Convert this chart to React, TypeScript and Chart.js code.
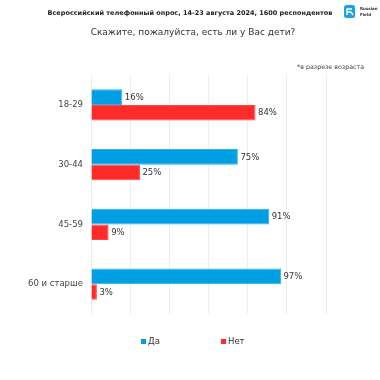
import React, { useEffect, useRef } from "react";
import { Chart, registerables } from "chart.js";

Chart.register(...registerables);

const categories = ["18-29", "30-44", "45-59", "60 и старше"];
const seriesNames = ["Да", "Нет"];
const yesValues = [16, 75, 91, 97];
const noValues = [84, 25, 9, 3];
const seriesColors = ["#009FE3", "#FF2B2B"];
const seriesBorders = ["#2AB0EC", "#FF4646"];
const titleText = "Всероссийский телефонный опрос, 14-23 августа 2024, 1600 респондентов";
const subtitleText = "Скажите, пожалуйста, есть ли у Вас дети?";
const noteText = "*в разрезе возраста";
const FONT = "'DejaVu Sans', sans-serif";

const headerPlugin = {
  id: "header",
  afterDraw(chart: any) {
    const ctx = chart.ctx;
    ctx.save();
    ctx.textBaseline = "middle";
    ctx.fillStyle = "#222";
    ctx.textAlign = "center";
    ctx.font = `bold 6.5px ${FONT}`;
    ctx.fillText(titleText, 190, 13);
    ctx.font = `9px ${FONT}`;
    ctx.fillStyle = "#333";
    ctx.fillText(subtitleText, 193, 33);
    ctx.font = `6.3px ${FONT}`;
    ctx.textAlign = "right";
    ctx.fillStyle = "#444";
    ctx.fillText(noteText, 364, 67);
    // logo
    ctx.fillStyle = "#1BA1E6";
    ctx.beginPath();
    (ctx as any).roundRect(344, 5, 11, 13, 2.5);
    ctx.fill();
    ctx.strokeStyle = "#fff";
    ctx.lineWidth = 1.4;
    ctx.beginPath();
    ctx.moveTo(352, 9);
    ctx.lineTo(347, 9);
    ctx.lineTo(347, 15);
    ctx.moveTo(347, 12);
    ctx.lineTo(351, 12);
    ctx.lineTo(353, 15);
    ctx.stroke();
    ctx.fillStyle = "#333";
    ctx.textAlign = "left";
    ctx.font = `bold 4px ${FONT}`;
    ctx.fillText("Russian", 360, 9);
    ctx.fillText("Field", 360, 15);
    ctx.restore();
  },
};

const valueLabelPlugin = {
  id: "valueLabels",
  afterDatasetsDraw(chart: any) {
    const ctx = chart.ctx;
    ctx.save();
    ctx.font = `8.5px ${FONT}`;
    ctx.fillStyle = "#333";
    ctx.textAlign = "left";
    ctx.textBaseline = "middle";
    chart.data.datasets.forEach((ds: any, i: number) => {
      const meta = chart.getDatasetMeta(i);
      meta.data.forEach((bar: any, j: number) => {
        ctx.fillText(ds.data[j] + "%", bar.x + 2.5, bar.y + 0.5);
      });
    });
    ctx.restore();
  },
};

const legendPlugin = {
  id: "customLegend",
  afterDraw(chart: any) {
    const ctx = chart.ctx;
    ctx.save();
    ctx.font = `8.5px ${FONT}`;
    ctx.textBaseline = "middle";
    ctx.textAlign = "left";
    const xs = [141, 221];
    chart.data.datasets.forEach((ds: any, i: number) => {
      ctx.fillStyle = ds.backgroundColor;
      ctx.fillRect(xs[i], 339, 5, 5);
      ctx.fillStyle = "#333";
      ctx.fillText(ds.label, xs[i] + 7, 342);
    });
    ctx.restore();
  },
};

export default function App() {
  const ref = useRef<HTMLCanvasElement>(null);
  useEffect(() => {
    document.body.style.margin = "0";
    const chart = new Chart(ref.current!, {
      type: "bar",
      data: {
        labels: categories,
        datasets: [
          {
            label: seriesNames[0],
            data: yesValues,
            backgroundColor: seriesColors[0],
            borderColor: seriesBorders[0],
            borderWidth: 1,
            categoryPercentage: 0.52,
            barPercentage: 1,
          },
          {
            label: seriesNames[1],
            data: noValues,
            backgroundColor: seriesColors[1],
            borderColor: seriesBorders[1],
            borderWidth: 1,
            categoryPercentage: 0.52,
            barPercentage: 1,
          },
        ],
      },
      options: {
        indexAxis: "y",
        animation: false,
        responsive: false,
        maintainAspectRatio: false,
        layout: { padding: { top: 75, bottom: 66, right: 54, left: 0 } },
        plugins: {
          legend: { display: false },
          tooltip: { enabled: false },
          title: { display: false },
        },
        scales: {
          x: {
            min: 0,
            max: 120,
            ticks: { display: false, stepSize: 20 },
            grid: { color: "#EDEDED", drawTicks: false },
            border: { display: false },
          },
          y: {
            grid: { display: false, drawTicks: false },
            border: { display: false },
            ticks: { color: "#444", font: { family: FONT, size: 8.5 }, padding: 8 },
            afterFit(scale: any) {
              scale.width = 91;
            },
          },
        },
      },
      plugins: [headerPlugin, valueLabelPlugin, legendPlugin],
    });
    return () => chart.destroy();
  }, []);
  return (
    <div style={{ width: 380, height: 380, background: "#fff" }}>
      <canvas ref={ref} width={380} height={380} style={{ display: "block" }} />
    </div>
  );
}
